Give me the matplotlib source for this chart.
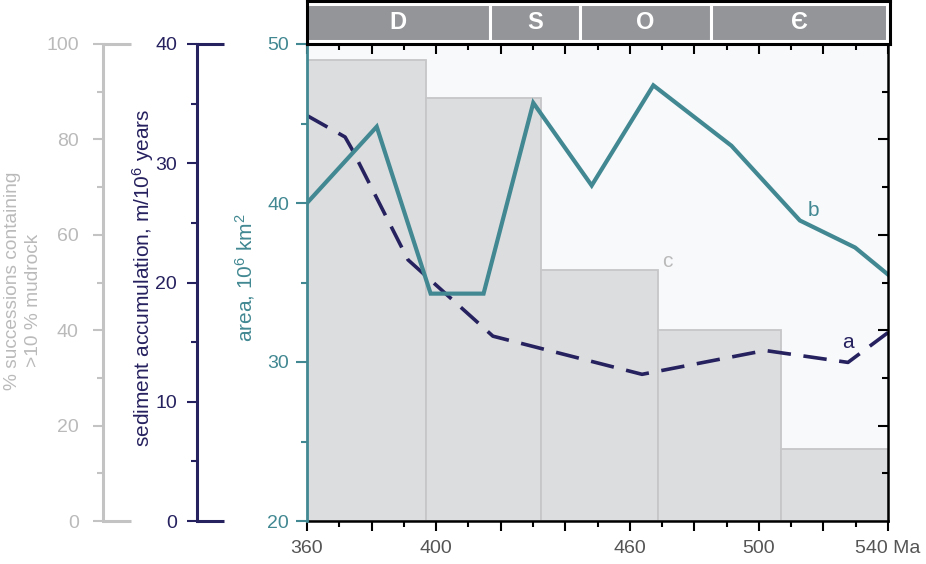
import numpy as np
import matplotlib
matplotlib.use("Agg")
import matplotlib.pyplot as plt
from matplotlib.ticker import MultipleLocator, FixedLocator

plt.rcParams['font.family'] = ['Liberation Sans', 'DejaVu Sans']
plt.rcParams['mathtext.fontset'] = 'custom'
plt.rcParams['mathtext.rm'] = 'Liberation Sans'
plt.rcParams['mathtext.it'] = 'Liberation Sans:italic'
plt.rcParams['mathtext.bf'] = 'Liberation Sans:bold'

# curve a: sediment accumulation (m / 10^6 years)
age_a = [360.0, 371.8, 373.9, 391.3, 417.6, 463.8, 501.9, 527.6, 540.0]
sed_a = [34.0, 32.2, 31.2, 21.9, 15.5, 12.3, 14.3, 13.3, 15.8]

# curve b: area (10^6 km2)
age_b = [360.0, 381.6, 398.3, 414.7, 430.1, 448.2, 467.3, 491.5, 512.7, 529.8, 540.0]
area_b = [40.0, 44.8, 34.3, 34.3, 46.3, 41.1, 47.4, 43.6, 38.9, 37.2, 35.5]

# histogram c: % successions containing >10 % mudrock
bar_edges = [360.0, 396.9, 432.6, 468.7, 506.7, 540.0]
bar_pct = [96.7, 88.7, 52.6, 40.1, 15.1]

# geological periods
periods = ['D', 'S', 'O', 'Є']
period_edges = [360.0, 416.7, 444.6, 485.5, 540.0]

x_labels = {360: '360', 400: '400', 460: '460', 500: '500', 540: '540 Ma'}

gray = '#c3c3c3'
gray_txt = '#bababa'
navy = '#26215f'
teal = '#418892'
W, H = 926, 564

fig = plt.figure(figsize=(W / 100, H / 100), dpi=100)
rect = [307 / W, 43 / H, 581 / W, 477 / H]

tick_kw = dict(width=1.5, labelsize=14)

# --- percent axis with bars (bottom layer) ---
ax_g = fig.add_axes(rect)
ax_g.set_facecolor('#f8f9fb')
ax_g.bar(bar_edges[:-1], bar_pct, width=np.diff(bar_edges), align='edge',
         color='#dcdddf', edgecolor='#c6c6c8', linewidth=1.3, zorder=1)
ax_g.set_xlim(360, 540)
ax_g.set_ylim(0, 100)
for s in ['top', 'right']:
    ax_g.spines[s].set_visible(False)
ax_g.spines['left'].set_position(('axes', -0.3511))
ax_g.spines['left'].set_color(gray)
ax_g.spines['left'].set_linewidth(2.2)
ax_g.spines['bottom'].set_color('black')
ax_g.spines['bottom'].set_linewidth(1.8)
ax_g.yaxis.set_major_locator(MultipleLocator(20))
ax_g.yaxis.set_minor_locator(MultipleLocator(10))
ax_g.tick_params(axis='y', which='major', length=7.5, color=gray, labelcolor=gray_txt,
                 pad=10, **tick_kw)
ax_g.tick_params(axis='y', which='minor', length=4, width=1.5, color=gray)
ticks_x = list(range(360, 541, 20))
ax_g.set_xticks(ticks_x)
ax_g.set_xticklabels([x_labels.get(t, '') for t in ticks_x])
ax_g.xaxis.set_minor_locator(MultipleLocator(10))
ax_g.tick_params(axis='x', which='major', length=7.5, color='black', labelcolor='#555555',
                 pad=6, **tick_kw)
ax_g.tick_params(axis='x', which='minor', length=4, width=1.5, color='black')
ax_g.text(471.5, 54.5, 'c', color=gray_txt, fontsize=15, ha='center', va='center')

# --- sediment accumulation axis ---
ax_n = fig.add_axes(rect)
ax_n.patch.set_visible(False)
ax_n.plot(age_a, sed_a, color=navy, lw=2.6, dashes=(6.5, 3.5), zorder=3)
ax_n.set_xlim(360, 540)
ax_n.set_ylim(0, 40)
ax_n.xaxis.set_visible(False)
for s in ['top', 'right', 'bottom']:
    ax_n.spines[s].set_visible(False)
ax_n.spines['left'].set_position(('axes', -0.1893))
ax_n.spines['left'].set_color(navy)
ax_n.spines['left'].set_linewidth(2.2)
ax_n.yaxis.set_major_locator(MultipleLocator(10))
ax_n.yaxis.set_minor_locator(MultipleLocator(5))
ax_n.tick_params(axis='y', which='major', length=7.5, color=navy, labelcolor=navy,
                 pad=7, **tick_kw)
ax_n.tick_params(axis='y', which='minor', length=4, width=1.5, color=navy)
ax_n.text(527.6, 15.0, 'a', color=navy, fontsize=15, ha='center', va='center')

# --- area axis (main) ---
ax = fig.add_axes(rect)
ax.patch.set_visible(False)
ax.plot(age_b, area_b, color=teal, lw=3.0, solid_joinstyle='miter', zorder=4)
ax.set_xlim(360, 540)
ax.set_ylim(20, 50)
for s in ['right', 'bottom']:
    ax.spines[s].set_visible(False)
ax.spines['left'].set_color(teal)
ax.spines['left'].set_linewidth(2.0)
ax.spines['top'].set_color('black')
ax.spines['top'].set_linewidth(1.8)
ax.yaxis.set_major_locator(MultipleLocator(10))
ax.yaxis.set_minor_locator(MultipleLocator(5))
ax.tick_params(axis='y', which='major', length=8, color=teal, labelcolor=teal,
               pad=5, **tick_kw)
ax.tick_params(axis='y', which='minor', length=4, width=1.5, color=teal)
ax.xaxis.set_ticks_position('top')
ax.xaxis.set_major_locator(MultipleLocator(20))
ax.xaxis.set_minor_locator(MultipleLocator(10))
ax.tick_params(axis='x', which='major', direction='in', length=7, width=1.5,
               color='black', labeltop=False, labelbottom=False)
ax.tick_params(axis='x', which='minor', direction='in', length=4, width=1.5, color='black')
ax.text(516.8, 39.5, 'b', color=teal, fontsize=15, ha='center', va='center')

# --- right-hand percent ticks ---
ax_r = fig.add_axes(rect)
ax_r.patch.set_visible(False)
ax_r.set_xlim(360, 540)
ax_r.set_ylim(0, 100)
ax_r.xaxis.set_visible(False)
for s in ['top', 'left', 'bottom']:
    ax_r.spines[s].set_visible(False)
ax_r.spines['right'].set_color('black')
ax_r.spines['right'].set_linewidth(1.8)
ax_r.yaxis.set_ticks_position('right')
ax_r.yaxis.set_major_locator(FixedLocator([20, 40, 60, 80]))
ax_r.yaxis.set_minor_locator(FixedLocator([10, 30, 50, 70, 90]))
ax_r.tick_params(axis='y', which='major', direction='in', length=7.5, width=1.5,
                 color='black', labelright=False)
ax_r.tick_params(axis='y', which='minor', direction='in', length=4.5, width=1.5, color='black')

# caps at the ends of the two outer left axes
for a, off, ext, col, lo, hi in [(ax_g, -0.3511, 0.048, gray, 0, 100),
                                 (ax_n, -0.1893, 0.046, navy, 0, 40)]:
    tr = a.get_yaxis_transform()
    for yv in (lo, hi):
        a.plot([off, off + ext], [yv, yv], transform=tr, color=col, lw=2.2,
               clip_on=False, solid_capstyle='butt')

# --- geological time scale box ---
ax_t = fig.add_axes([307 / W, 520 / H, 583 / W, 43 / H])
ax_t.set_xlim(360, 540.9)
ax_t.set_ylim(0, 1)
ax_t.barh(0.5, np.diff(period_edges), left=period_edges[:-1], height=0.86,
          color='#939598', edgecolor='white', linewidth=2.2)
for name, x0, x1 in zip(periods, period_edges[:-1], period_edges[1:]):
    ax_t.text((x0 + x1) / 2, 0.5, name, color='white', fontsize=17, fontweight='bold',
              ha='center', va='center')
ax_t.set_xticks([])
ax_t.set_yticks([])
for s in ax_t.spines.values():
    s.set_linewidth(2.2)
    s.set_color('black')

# axis titles
fig.text(13 / W, 1 - 281 / H, '% successions containing', rotation=90,
         ha='center', va='center', color=gray_txt, fontsize=13.8)
fig.text(34 / W, 1 - 300 / H, '>10 % mudrock', rotation=90,
         ha='center', va='center', color=gray_txt, fontsize=13.8)
fig.text(143 / W, 1 - 278 / H, 'sediment accumulation, m/10$^6$ years', rotation=90,
         ha='center', va='center', color=navy, fontsize=15)
fig.text(245 / W, 1 - 278 / H, 'area, 10$^6$ km$^2$', rotation=90,
         ha='center', va='center', color=teal, fontsize=15)

fig.savefig('out.png', dpi=100)
